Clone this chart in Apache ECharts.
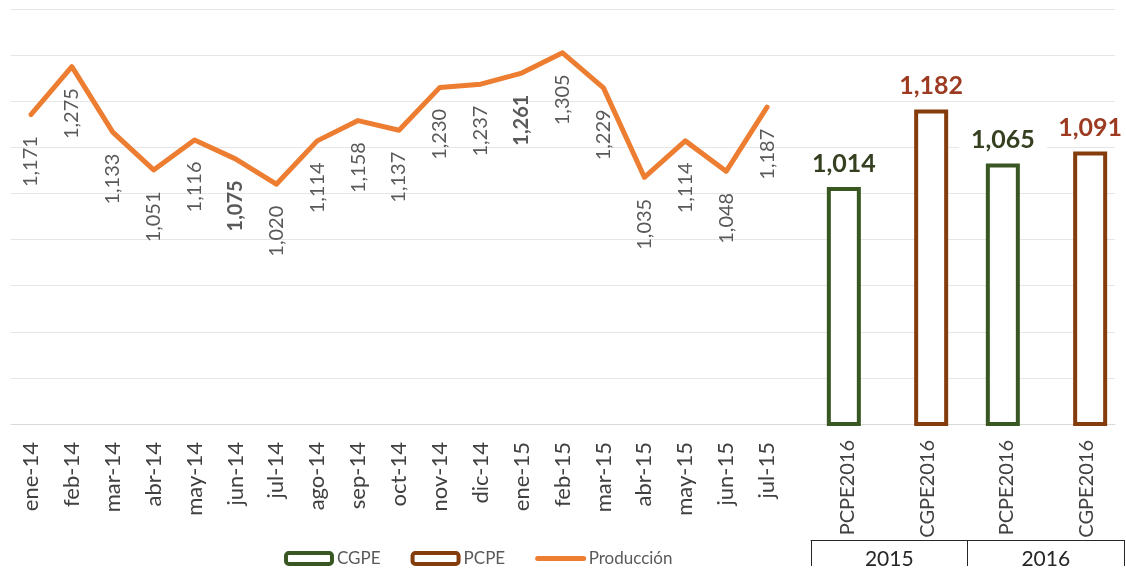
<!DOCTYPE html>
<html>
<head>
<meta charset="utf-8">
<script src="https://cdn.jsdelivr.net/npm/echarts@6/dist/echarts.min.js"></script>
<style>
html,body{margin:0;padding:0;background:#fff;}
#chart{width:1126px;height:570px;}
</style>
</head>
<body>
<div id="chart"></div>
<script>
const months = ['ene-14','feb-14','mar-14','abr-14','may-14','jun-14','jul-14','ago-14','sep-14','oct-14','nov-14','dic-14','ene-15','feb-15','mar-15','abr-15','may-15','jun-15','jul-15'];
const produccion = [1171,1275,1133,1051,1116,1075,1020,1114,1158,1137,1230,1237,1261,1305,1229,1035,1114,1048,1187];
const boldMonths = ['jun-14','ene-15'];
const barCategories = ['PCPE2016','CGPE2016','PCPE2016','CGPE2016'];
const cgpe = [1014, null, 1065, null];
const pcpe = [null, 1182, null, 1091];
const years = ['2015','2016'];
const yTicks = {min: 500, max: 1400, interval: 100};

const FONT = 'Lato';
const fmt = v => Math.round(v).toLocaleString('en-US');

const chart = echarts.init(document.getElementById('chart'), null, {renderer: 'canvas'});

const lineData = produccion.map((v, i) => boldMonths.includes(months[i]) ? {value: v, label: {fontWeight: 'bold'}} : v);
const toBar = arr => arr.map(v => v == null ? '-' : v);

const hiddenY = idx => ({type: 'value', gridIndex: idx, min: yTicks.min, max: yTicks.max, interval: yTicks.interval, show: false});

chart.setOption({
  animation: false,
  backgroundColor: '#fff',
  grid: [
    {left: 11, right: 11, top: 9, height: 415},
    {left: 10.5, width: 777, top: 9, height: 415},
    {left: 808, width: 327, top: 9, height: 415},
    {left: 811, width: 313, top: 9, height: 535}
  ],
  xAxis: [
    {type: 'value', gridIndex: 0, min: 0, max: 1, axisLine: {show: true, onZero: false, lineStyle: {color: '#D9D9D9', width: 1}}, axisTick: {show: false}, axisLabel: {show: false}, splitLine: {show: false}},
    {type: 'category', gridIndex: 1, data: months, boundaryGap: true, axisLine: {show: false}, axisTick: {show: false},
      axisLabel: {interval: 0, rotate: 90, margin: 18, fontFamily: FONT, fontSize: 22, color: '#404040'}},
    {type: 'category', gridIndex: 2, data: barCategories, boundaryGap: true, axisLine: {show: false}, axisTick: {show: false},
      axisLabel: {interval: 0, rotate: 90, margin: 16, fontFamily: FONT, fontSize: 20, color: '#404040'}},
    {type: 'category', gridIndex: 3, data: years, boundaryGap: true, position: 'bottom',
      axisLine: {show: true, onZero: false, lineStyle: {color: '#262626', width: 1}},
      axisTick: {show: true, length: 26, alignWithLabel: false, lineStyle: {color: '#262626', width: 1}},
      axisLabel: {margin: 9, fontFamily: FONT, fontSize: 21, color: '#262626'}}
  ],
  yAxis: [
    {type: 'value', gridIndex: 0, min: yTicks.min, max: yTicks.max, interval: yTicks.interval,
      axisLine: {show: false}, axisTick: {show: false}, axisLabel: {show: false},
      splitLine: {show: true, lineStyle: {color: '#E6E6E6', width: 1}}},
    hiddenY(1), hiddenY(2), hiddenY(3)
  ],
  legend: {
    left: 279, top: 545, itemGap: 30, itemWidth: 46, itemHeight: 11,
    textStyle: {fontFamily: FONT, fontSize: 17, color: '#595959'},
    data: [
      {name: 'CGPE', itemStyle: {borderWidth: 4}},
      {name: 'PCPE', itemStyle: {borderWidth: 4}},
      {name: 'Producción', itemStyle: {opacity: 0}, lineStyle: {width: 5, cap: 'round'}}
    ]
  },
  series: [
    {
      name: 'Producción', type: 'line', xAxisIndex: 1, yAxisIndex: 1, data: lineData,
      symbol: 'circle', symbolSize: 1, showSymbol: true,
      itemStyle: {color: '#ED7D31'},
      lineStyle: {color: '#ED7D31', width: 5, join: 'round', cap: 'round'},
      label: {show: true, position: 'bottom', distance: 21, rotate: 90, align: 'right', verticalAlign: 'middle',
        fontFamily: FONT, fontSize: 20, color: '#595959', formatter: p => fmt(p.value)},
      z: 3
    },
    {
      name: 'CGPE', type: 'bar', xAxisIndex: 2, yAxisIndex: 2, data: toBar(cgpe),
      barWidth: 34, barGap: '-77%',
      itemStyle: {color: '#fff', borderColor: '#385723', borderWidth: 4},
      label: {show: true, position: 'top', distance: 9, fontFamily: FONT, fontSize: 25, fontWeight: 'bold',
        color: '#34401F', backgroundColor: '#fff', padding: [2, 12], formatter: p => fmt(p.value)}
    },
    {
      name: 'PCPE', type: 'bar', xAxisIndex: 2, yAxisIndex: 2, data: toBar(pcpe),
      barWidth: 34, barGap: '-77%',
      itemStyle: {color: '#fff', borderColor: '#843C0C', borderWidth: 4},
      label: {show: true, position: 'top', distance: 9, fontFamily: FONT, fontSize: 25, fontWeight: 'bold',
        color: '#9C3B22', backgroundColor: '#fff', padding: [2, 12], formatter: p => fmt(p.value)}
    }
  ]
});
</script>
</body>
</html>
